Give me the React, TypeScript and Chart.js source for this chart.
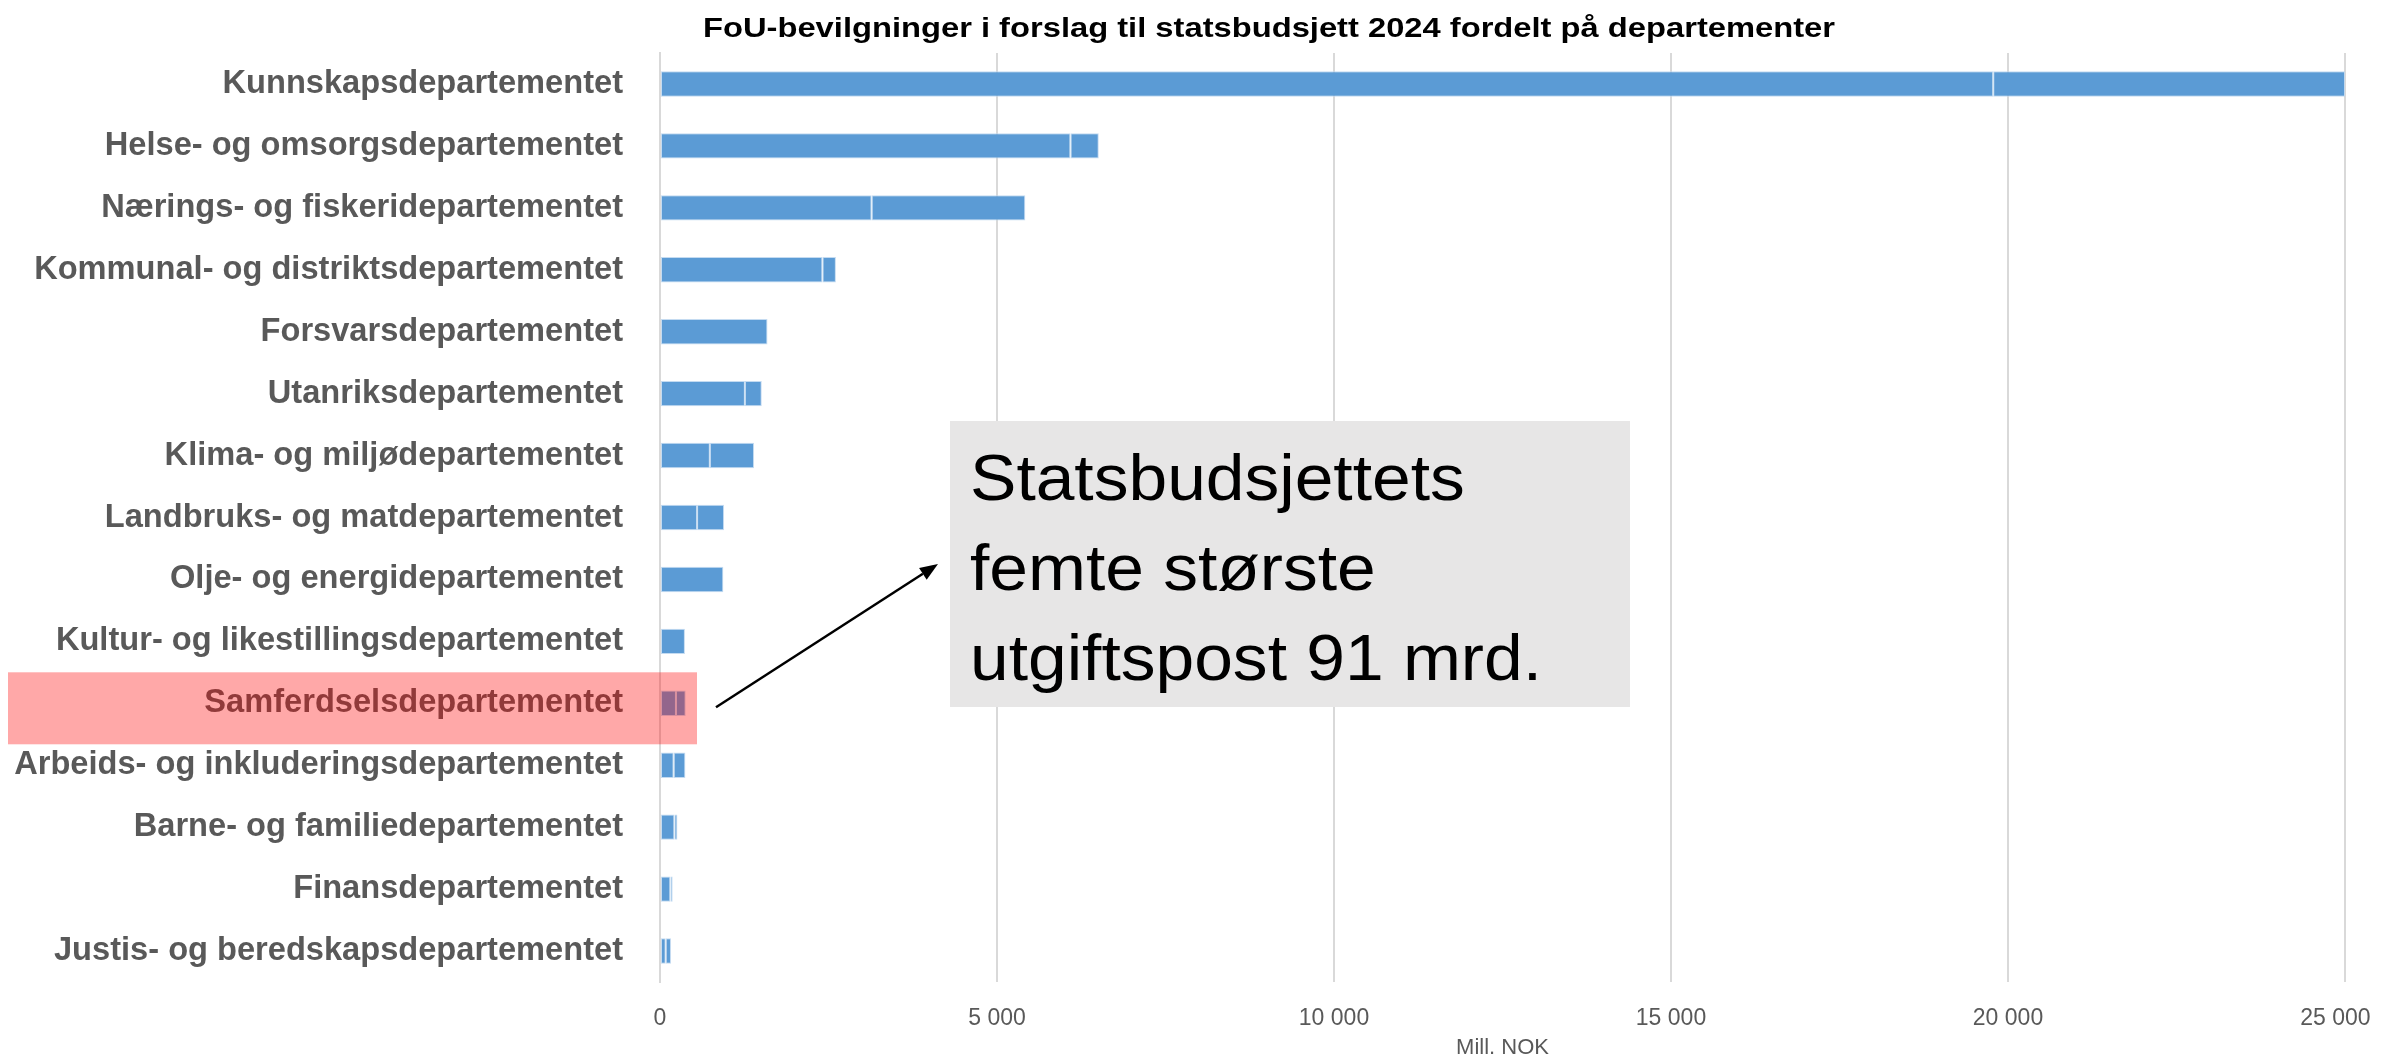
import React, { useEffect, useRef } from 'react';
import { Chart, registerables } from 'chart.js';

Chart.register(...registerables);

const TITLE = 'FoU-bevilgninger i forslag til statsbudsjett 2024 fordelt på departementer';

const departments = [
  'Kunnskapsdepartementet',
  'Helse- og omsorgsdepartementet',
  'Nærings- og fiskeridepartementet',
  'Kommunal- og distriktsdepartementet',
  'Forsvarsdepartementet',
  'Utanriksdepartementet',
  'Klima- og miljødepartementet',
  'Landbruks- og matdepartementet',
  'Olje- og energidepartementet',
  'Kultur- og likestillingsdepartementet',
  'Samferdselsdepartementet',
  'Arbeids- og inkluderingsdepartementet',
  'Barne- og familiedepartementet',
  'Finansdepartementet',
  'Justis- og beredskapsdepartementet',
];

// Two stacked segments per department (Mill. NOK)
const segmentA = [19780, 6090, 3140, 2410, 1595, 1260, 740, 550, 940, 370, 237, 203, 214, 154, 85];
const segmentB = [5220, 420, 2280, 200, null, 250, 655, 400, null, null, 144, 174, 44, 34, 78];

const xMin = 0;
const xMax = 25000;
const xStep = 5000;
const xAxisTitle = 'Mill. NOK';

const calloutLines = ['Statsbudsjettets', 'femte største', 'utgiftspost 91 mrd.'];
const highlightCategory = 'Samferdselsdepartementet';

const FAMILY = "'Liberation Sans', Arial, sans-serif";
const LABEL_GRAY = '#595959';
const BAR_BLUE = '#5B9BD5';
const BAR_EDGE = 'rgba(190,215,240,0.9)';

const CANVAS_W = 2366;
const CANVAS_H = 1054;

function fmt(v: number): string {
  return String(Math.round(v)).replace(/\B(?=(\d{3})+(?!\d))/g, ' ');
}

function drawFittedText(
  ctx: CanvasRenderingContext2D,
  text: string,
  x: number,
  y: number,
  weight: string,
  size: number,
  targetWidth: number,
  align: CanvasTextAlign,
  color: string
) {
  ctx.save();
  ctx.font = `${weight} ${size}px ${FAMILY}`;
  const w = ctx.measureText(text).width;
  const sx = targetWidth / w;
  ctx.translate(x, y);
  ctx.scale(sx, 1);
  ctx.textAlign = align;
  ctx.textBaseline = 'alphabetic';
  ctx.fillStyle = color;
  ctx.fillText(text, 0, 0);
  ctx.restore();
}

const overlayPlugin = {
  id: 'overlay',
  afterDraw(chart: any) {
    const ctx: CanvasRenderingContext2D = chart.ctx;
    const xs = chart.scales.x;
    const ys = chart.scales.y;
    const x0 = xs.getPixelForValue(0);

    // Title
    drawFittedText(ctx, TITLE, 1261, 29, 'bold', 28, 1132, 'center', '#000000');

    // Callout box
    ctx.save();
    ctx.fillStyle = '#E7E6E6';
    ctx.fillRect(942, 413, 680, 286);
    ctx.restore();
    const baselines = [492, 582, 672];
    const lastW = 572;
    ctx.save();
    ctx.font = `normal 64px ${FAMILY}`;
    const refW = ctx.measureText(calloutLines[2]).width;
    ctx.restore();
    const sx = lastW / refW;
    calloutLines.forEach((line, i) => {
      ctx.save();
      ctx.font = `normal 64px ${FAMILY}`;
      ctx.translate(962, baselines[i]);
      ctx.scale(sx, 1);
      ctx.textAlign = 'left';
      ctx.fillStyle = '#000000';
      ctx.fillText(line, 0, 0);
      ctx.restore();
    });

    // Arrow
    const idx = departments.indexOf(highlightCategory);
    const yc = ys.getPixelForValue(idx);
    const ax0 = x0 + 56, ay0 = yc + 4;
    const ax1 = 930, ay1 = 556;
    const ang = Math.atan2(ay1 - ay0, ax1 - ax0);
    const headLen = 18, headW = 7;
    ctx.save();
    ctx.strokeStyle = '#000000';
    ctx.fillStyle = '#000000';
    ctx.lineWidth = 2.5;
    ctx.beginPath();
    ctx.moveTo(ax0, ay0);
    ctx.lineTo(ax1 - headLen * Math.cos(ang), ay1 - headLen * Math.sin(ang));
    ctx.stroke();
    ctx.beginPath();
    ctx.moveTo(ax1, ay1);
    ctx.lineTo(
      ax1 - headLen * Math.cos(ang) + headW * Math.sin(ang),
      ay1 - headLen * Math.sin(ang) - headW * Math.cos(ang)
    );
    ctx.lineTo(
      ax1 - headLen * Math.cos(ang) - headW * Math.sin(ang),
      ay1 - headLen * Math.sin(ang) + headW * Math.cos(ang)
    );
    ctx.closePath();
    ctx.fill();
    ctx.restore();

    // Highlight band
    ctx.save();
    ctx.fillStyle = 'rgba(255,0,0,0.34)';
    ctx.fillRect(0, yc - 31, x0 + 37, 72);
    ctx.restore();
  },
};

export default function App() {
  const canvasRef = useRef<HTMLCanvasElement | null>(null);

  useEffect(() => {
    const canvas = canvasRef.current;
    if (!canvas) return;

    const m = document.createElement('canvas').getContext('2d')!;
    m.font = `bold 30px ${FAMILY}`;
    let maxW = 0;
    departments.forEach((d) => {
      maxW = Math.max(maxW, m.measureText(d).width);
    });
    const labelSize = Math.min(36, (30 * 609) / maxW);

    const chart = new Chart(canvas, {
      type: 'bar',
      data: {
        labels: departments,
        datasets: [
          {
            label: 'A',
            data: segmentA,
            backgroundColor: BAR_BLUE,
            borderColor: BAR_EDGE,
            borderWidth: 1,
            borderSkipped: false,
          },
          {
            label: 'B',
            data: segmentB as any,
            backgroundColor: BAR_BLUE,
            borderColor: BAR_EDGE,
            borderWidth: 1,
            borderSkipped: false,
          },
        ],
      },
      options: {
        indexAxis: 'y',
        responsive: false,
        animation: false,
        devicePixelRatio: 1,
        layout: { padding: { top: 45, right: 29, left: 0, bottom: 0 } },
        datasets: {
          bar: { categoryPercentage: 1, barPercentage: 0.41 },
        },
        plugins: {
          legend: { display: false },
          tooltip: { enabled: false },
          title: { display: false },
        },
        scales: {
          x: {
            type: 'linear',
            stacked: true,
            min: xMin,
            max: xMax,
            afterFit: (s: any) => {
              s.height = 80;
              s.paddingLeft = 0;
              s.paddingRight = 0;
            },
            ticks: {
              stepSize: xStep,
              color: LABEL_GRAY,
              font: { family: FAMILY, size: 23 },
              padding: 23,
              maxRotation: 0,
              callback: (v: any) =>
                Number(v) === xMax ? fmt(Number(v)) + '\u00A0\u00A0\u00A0' : fmt(Number(v)),
            },
            grid: {
              color: '#D9D9D9',
              lineWidth: 2,
              drawTicks: false,
            },
            border: { display: false },
            title: {
              display: true,
              text: xAxisTitle,
              color: LABEL_GRAY,
              font: { family: FAMILY, size: 22 },
              padding: { top: 0, bottom: 1 },
            },
          },
          y: {
            type: 'category',
            stacked: true,
            afterFit: (s: any) => {
              s.width = 652;
              s.paddingTop = 0;
              s.paddingBottom = 0;
            },
            ticks: {
              color: LABEL_GRAY,
              font: { family: FAMILY, size: labelSize, weight: 'bold' },
              padding: 37,
              autoSkip: false,
            },
            grid: { display: false, drawTicks: false },
            border: { display: true, color: '#D9D9D9', width: 2 },
          },
        },
      } as any,
      plugins: [overlayPlugin],
    });

    return () => {
      chart.destroy();
    };
  }, []);

  return (
    <div style={{ width: CANVAS_W, height: CANVAS_H, marginBottom: -8, position: 'relative', overflow: 'hidden' }}>
      <canvas ref={canvasRef} width={CANVAS_W} height={CANVAS_H} style={{ display: 'block' }} />
    </div>
  );
}
